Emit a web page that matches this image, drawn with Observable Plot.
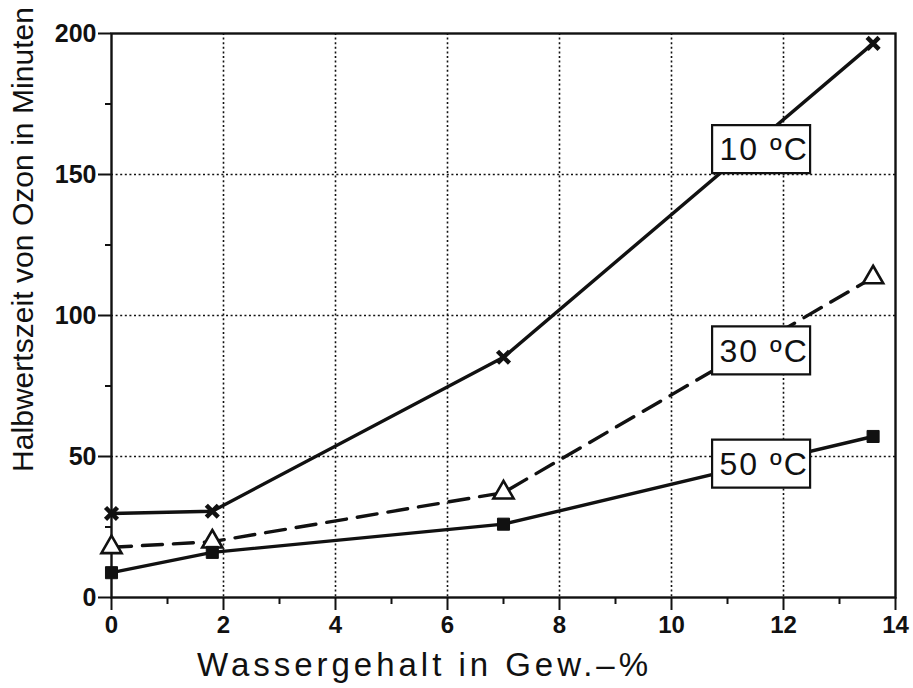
<!DOCTYPE html>
<html>
<head>
<meta charset="utf-8">
<script src="https://cdn.jsdelivr.net/npm/d3@7"></script>
<script src="https://cdn.jsdelivr.net/npm/@observablehq/plot@0.6"></script>
<style>
  html, body { margin: 0; padding: 0; background: #fff; }
  #chart svg { display: block; }
</style>
</head>
<body>
<div id="chart"></div>
<script>
// Data
const wasser = [0, 1.8, 7, 13.6];
const halb10 = [29.8, 30.6, 85.2, 196.5];
const halb30 = [17.8, 19.8, 37.2, 113.5];
const halb50 = [8.8, 16.0, 26.0, 57.1];
const seriesNames = ["10 ºC", "30 ºC", "50 ºC"];
const labelX = [11.6, 11.6, 11.6];
const labelY = [159, 87.6, 47.5];
const xMajorTicks = [0, 2, 4, 6, 8, 10, 12, 14];
const xMinorTicks = [1, 3, 5, 7, 9, 11, 13];
const yMajorTicks = [0, 50, 100, 150, 200];
const yMinorTicks = [25, 75, 125, 175];
const xGrid = [2, 4, 6, 8, 10, 12];
const yGrid = [50, 100, 150];
const xTitle = "Wassergehalt in Gew.\u2013%";
const yTitle = "Halbwertszeit von Ozon in Minuten";

const toRows = (vals) => wasser.map((w, i) => ({x: w, y: vals[i]}));
const d10 = toRows(halb10), d30 = toRows(halb30), d50 = toRows(halb50);
const labels = seriesNames.map((t, i) => ({x: labelX[i], y: labelY[i], text: t}));

const boxSymbol = { draw(ctx) { ctx.rect(-49, -24, 98, 48); } };
const ink = "#111";
const font = "'Liberation Sans', Arial, sans-serif";

const chart = Plot.plot({
  width: 913,
  height: 688,
  marginLeft: 111,
  marginRight: 18,
  marginTop: 33,
  marginBottom: 91,
  style: {background: "#fff", fontFamily: font, color: ink, overflow: "visible"},
  x: {domain: [0, 14]},
  y: {domain: [0, 200]},
  marks: [
    Plot.gridX(xGrid, {stroke: ink, strokeOpacity: 1, strokeWidth: 1.6, strokeDasharray: "2,2.6"}),
    Plot.gridY(yGrid, {stroke: ink, strokeOpacity: 1, strokeWidth: 1.6, strokeDasharray: "2,2.6"}),
    Plot.axisX({ticks: xMajorTicks, tickSize: 13, tickPadding: 5, fontSize: 24, fontWeight: "bold", strokeWidth: 2, label: null, tickFormat: d => String(d)}),
    Plot.axisX({ticks: xMinorTicks, tickSize: 7, strokeWidth: 2, text: null, label: null}),
    Plot.axisY({ticks: yMajorTicks, tickSize: 13, tickPadding: 2, fontSize: 25, fontWeight: "bold", strokeWidth: 2, label: null, tickFormat: d => String(d)}),
    Plot.axisY({ticks: yMinorTicks, tickSize: 6, strokeWidth: 2, text: null, label: null}),
    Plot.frame({stroke: ink, strokeWidth: 2.4}),
    Plot.line(d10, {x: "x", y: "y", stroke: ink, strokeWidth: 3.4}),
    Plot.line(d50, {x: "x", y: "y", stroke: ink, strokeWidth: 3.4}),
    Plot.line(d30, {x: "x", y: "y", stroke: ink, strokeWidth: 3.4, strokeDasharray: "20,11"}),
    Plot.dot(d10, {x: "x", y: "y", symbol: "times", r: 5.5, stroke: ink, strokeWidth: 4.5}),
    Plot.dot(d30, {x: "x", y: "y", symbol: "triangle", r: 7.5, fill: "#fff", stroke: ink, strokeWidth: 2.6}),
    Plot.dot(d50, {x: "x", y: "y", symbol: "square", r: 6.8, fill: ink, stroke: ink, strokeWidth: 1}),
    Plot.dot(labels, {x: "x", y: "y", symbol: boxSymbol, r: 10, fill: "#fff", stroke: ink, strokeWidth: 2.2}),
    Plot.text(labels, {x: "x", y: "y", text: "text", dx: 3, dy: 1, fontSize: 32, fill: ink}),
    Plot.text([yTitle], {text: d => d, frameAnchor: "top-left", textAnchor: "middle", lineAnchor: "middle", dx: -88, dy: 206, rotate: -90, fontSize: 30, fill: ink}),
    Plot.text([xTitle], {text: d => d, frameAnchor: "bottom-left", textAnchor: "middle", lineAnchor: "middle", dx: 311, dy: 68, fontSize: 33, fill: ink})
  ]
});

document.getElementById("chart").appendChild(chart);
const textGroups = d3.select(chart).selectAll('g[aria-label="text"]').nodes();
if (textGroups.length >= 3) {
  d3.select(textGroups[0]).selectAll("text").style("letter-spacing", "2px");
  d3.select(textGroups[1]).selectAll("text").attr("textLength", 465).attr("lengthAdjust", "spacing");
  d3.select(textGroups[2]).selectAll("text").attr("textLength", 451).attr("lengthAdjust", "spacing");
}
</script>
</body>
</html>
